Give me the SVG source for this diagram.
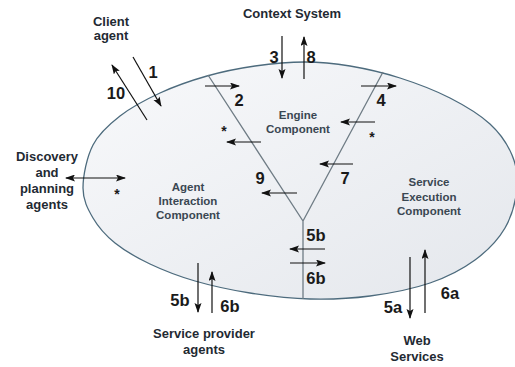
<svg xmlns="http://www.w3.org/2000/svg" width="515" height="367" viewBox="0 0 515 367">
<defs>
<linearGradient id="bg" x1="0" y1="0" x2="1" y2="1">
<stop offset="0" stop-color="#f8f9fb"/>
<stop offset="1" stop-color="#e4e7ec"/>
</linearGradient>
<marker id="ah" markerUnits="userSpaceOnUse" markerWidth="11" markerHeight="8" refX="9" refY="3.5" orient="auto">
<path d="M0,0 L10,3.5 L0,7 L2,3.5 Z" fill="#111"/>
</marker>
<marker id="as" markerUnits="userSpaceOnUse" markerWidth="11" markerHeight="8" refX="1" refY="3.5" orient="auto">
<path d="M10,0 L0,3.5 L10,7 L8,3.5 Z" fill="#111"/>
</marker>
</defs>
<style>
.lbl{font-family:"Liberation Sans",Arial,sans-serif;font-weight:bold;font-size:13px;fill:#1f2a33;text-anchor:middle}
.cmp{font-family:"Liberation Sans",Arial,sans-serif;font-weight:bold;font-size:11.5px;fill:#3a4752;text-anchor:middle}
.num{font-family:"Liberation Sans",Arial,sans-serif;font-weight:bold;font-size:16.5px;fill:#1a1a1a;text-anchor:middle}
.ast{font-family:"Liberation Sans",Arial,sans-serif;font-weight:bold;font-size:14px;fill:#1a1a1a;text-anchor:middle}
.arr{stroke:#111;stroke-width:1.2;fill:none;marker-end:url(#ah)}
.div{stroke:#6f7c85;stroke-width:1.3;fill:none}
</style>
<rect width="515" height="367" fill="#ffffff"/>
<g id="system">
<path d="M83,188 C83,175.83 86.83,157 93,145 C99.17,133 108.83,124.67 120,116 C131.17,107.33 145.5,99.67 160,93 C174.5,86.33 191.17,80.5 207,76 C222.83,71.5 238.67,68.33 255,66 C271.33,63.67 289.17,62 305,62 C320.83,62 334.17,63.33 350,66 C365.83,68.67 383.33,72.67 400,78 C416.67,83.33 435,90.33 450,98 C465,105.67 479.67,114.5 490,124 C500.33,133.5 507.5,144.33 512,155 C516.5,165.67 518.17,175.83 517,188 C515.83,200.17 512,216 505,228 C498,240 487.5,250.83 475,260 C462.5,269.17 447.5,277 430,283 C412.5,289 390,293.33 370,296 C350,298.67 330,299.5 310,299 C290,298.5 269.17,296 250,293 C230.83,290 211.67,285.83 195,281 C178.33,276.17 163.33,270.33 150,264 C136.67,257.67 124.5,250.67 115,243 C105.5,235.33 98.33,227.17 93,218 C87.67,208.83 83,200.17 83,188 Z" fill="url(#bg)" stroke="#4d6b7d" stroke-width="1.3"/>
<path class="div" d="M208,75 L303,221 L383,72 M303,221 L303,299"/>
</g>
<g id="engine">
<text class="cmp" x="298" y="118.5">Engine</text>
<text class="cmp" x="298" y="132.5">Component</text>
</g>
<g id="agent-interaction">
<text class="cmp" x="188" y="191">Agent</text>
<text class="cmp" x="188" y="205">Interaction</text>
<text class="cmp" x="188" y="219">Component</text>
</g>
<g id="service-execution">
<text class="cmp" x="429" y="186">Service</text>
<text class="cmp" x="429" y="201">Execution</text>
<text class="cmp" x="429" y="215">Component</text>
</g>
<g id="client-agent">
<text class="lbl" x="111" y="26">Client</text>
<text class="lbl" x="111" y="40">agent</text>
</g>
<g id="context-system">
<text class="lbl" x="292" y="18">Context System</text>
</g>
<g id="discovery">
<text class="lbl" x="47" y="161">Discovery</text>
<text class="lbl" x="47" y="177">and</text>
<text class="lbl" x="47" y="193">planning</text>
<text class="lbl" x="47" y="209">agents</text>
</g>
<g id="service-provider">
<text class="lbl" x="204" y="338">Service provider</text>
<text class="lbl" x="204" y="354">agents</text>
</g>
<g id="web-services">
<text class="lbl" x="417" y="345">Web</text>
<text class="lbl" x="417" y="361">Services</text>
</g>
<g id="connectors">
<line class="arr" x1="133" y1="57" x2="161" y2="106"/>
<line class="arr" x1="147" y1="120" x2="112" y2="65"/>
<line class="arr" x1="282" y1="36" x2="282" y2="78"/>
<line class="arr" x1="304" y1="79" x2="304" y2="37"/>
<line class="arr" x1="205" y1="86" x2="239" y2="86"/>
<line class="arr" x1="261" y1="142" x2="227" y2="142"/>
<line class="arr" x1="297" y1="193" x2="262" y2="193"/>
<line class="arr" x1="361" y1="86" x2="396" y2="86"/>
<line class="arr" x1="375" y1="122" x2="341" y2="122"/>
<line class="arr" x1="353" y1="164" x2="320" y2="164"/>
<line class="arr" x1="325" y1="249" x2="290" y2="249"/>
<line class="arr" x1="290" y1="263" x2="325" y2="263"/>
<line class="arr" x1="410" y1="257" x2="410" y2="318"/>
<line class="arr" x1="425" y1="313" x2="425" y2="250"/>
<line class="arr" x1="198" y1="263" x2="198" y2="312"/>
<line class="arr" x1="212" y1="313" x2="212" y2="272"/>
<line class="arr" x1="66" y1="178" x2="125" y2="178" style="marker-start:url(#as)"/>
<text class="num" x="153" y="78">1</text>
<text class="num" x="116" y="99">10</text>
<text class="num" x="274" y="63">3</text>
<text class="num" x="311" y="63">8</text>
<text class="num" x="239" y="106">2</text>
<text class="num" x="381" y="106">4</text>
<text class="num" x="260" y="184">9</text>
<text class="num" x="345" y="184">7</text>
<text class="num" x="316" y="241">5b</text>
<text class="num" x="316" y="284">6b</text>
<text class="num" x="180" y="306">5b</text>
<text class="num" x="230" y="312">6b</text>
<text class="num" x="393" y="313">5a</text>
<text class="num" x="450" y="299">6a</text>
<text class="ast" x="224" y="136">*</text>
<text class="ast" x="372" y="142">*</text>
<text class="ast" x="117" y="199">*</text>
</g>
</svg>
